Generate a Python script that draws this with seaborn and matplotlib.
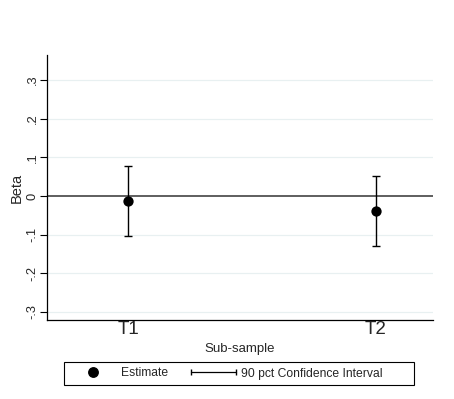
import matplotlib
matplotlib.use("Agg")
import matplotlib.pyplot as plt
import seaborn as sns
import pandas as pd
from matplotlib.lines import Line2D
from matplotlib.patches import Rectangle
from matplotlib.legend_handler import HandlerLine2D

groups = ["T1", "T2"]
estimates = [-0.013, -0.038]
ci_low = [-0.104, -0.130]
ci_high = [0.077, 0.052]
yticks = [-0.3, -0.2, -0.1, 0.0, 0.1, 0.2, 0.3]
ytick_labels = ["-.3", "-.2", "-.1", "0", ".1", ".2", ".3"]

sns.set_style("white")
plt.rcParams["font.family"] = ["Liberation Sans", "DejaVu Sans"]

df = pd.DataFrame({"group": groups, "pos": range(len(groups)), "est": estimates,
                   "lo": ci_low, "hi": ci_high})

W, H = 454, 399
fig = plt.figure(figsize=(W / 100, H / 100), dpi=100)
ax = fig.add_axes([47 / W, 1 - 320 / H, (433 - 47) / W, (320 - 55) / H])

for y in yticks:
    if y != 0:
        ax.axhline(y, color="#e8f0f1", lw=0.9, zorder=0)
ax.axhline(0, color="#333333", lw=1.1, zorder=1)

ax.errorbar(df["pos"], df["est"],
            yerr=[df["est"] - df["lo"], df["hi"] - df["est"]],
            fmt="none", ecolor="black", elinewidth=1.0, capsize=2.8, capthick=1.0, zorder=2)
sns.scatterplot(data=df, x="pos", y="est", color="black", s=55, edgecolor="black",
                linewidth=0, zorder=3, ax=ax, legend=False)

ax.set_xlim(-0.327, 1.23)
ax.set_ylim(-0.321, 0.365)
ax.set_xticks(df["pos"], groups, fontsize=13.5)
ax.set_yticks(yticks, ytick_labels, fontsize=9.3, rotation=90, va="center")
ax.tick_params(axis="y", length=5, width=0.8, color="black", pad=1, left=True)
ax.tick_params(axis="x", length=0, pad=0.5)
ax.set_xlabel("Sub-sample", fontsize=9.5, labelpad=4)
ax.set_ylabel("Beta", fontsize=10.5, labelpad=2)

sns.despine(ax=ax)
for s in ["left", "bottom"]:
    ax.spines[s].set_color("black")
    ax.spines[s].set_linewidth(0.9)

# legend frame
fig.patches.append(Rectangle((64 / W, 1 - 385 / H), (414 - 64) / W, (385 - 362) / H,
                             transform=fig.transFigure, fill=False, edgecolor="black",
                             linewidth=0.8))

h_est = Line2D([], [], color="black", marker="o", markersize=6.8, linestyle="none")
h_ci = Line2D([], [], color="black", marker="|", markersize=4.5, lw=0.9)
leg = fig.legend([h_est, h_ci], ["Estimate", "90 pct Confidence Interval"],
                 handler_map={h_ci: HandlerLine2D(numpoints=2)},
                 loc="center left", bbox_to_anchor=(64 / W, 1 - 373.5 / H), ncol=2,
                 fontsize=8.7, frameon=False, borderpad=0.25, borderaxespad=0,
                 handlelength=4.3, columnspacing=1.6, handletextpad=0.15)

fig.savefig("out.png", dpi=100)
